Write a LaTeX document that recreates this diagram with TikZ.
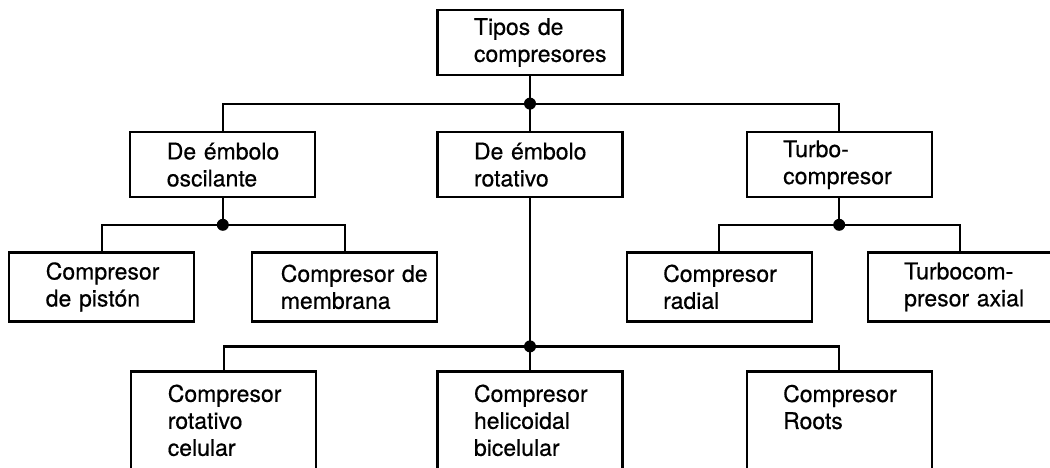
\documentclass[tikz,border=0pt]{standalone}
\usepackage{fontspec}
\setmainfont{TeX Gyre Heros}
\newfontfamily\boxfont[FakeBold=0.5]{TeX Gyre Heros}
\usetikzlibrary{positioning, calc}

\begin{document}
\begin{tikzpicture}[
  node distance=27.5pt and 60pt,
  box/.style={draw, line width=1.1pt, minimum width=92.5pt,
              minimum height=32.5pt, text width=92pt, inner xsep=0.25pt,
              align=left, font=\boxfont\fontsize{11.5}{13.5}\selectfont,
              execute at begin node={\leftskip=18pt}},
  midbox/.style={box, minimum height=34.5pt},
  leafbox/.style={box, minimum height=49pt},
  dot/.style={circle, fill, inner sep=0pt, minimum size=6pt},
  link/.style={line width=1.1pt}
]
\useasboundingbox (0,0) rectangle (525pt,-233.5pt);

\node[box] (tipos) at (265pt,-21.25pt) {Tipos de\\compresores};

\node[box, below=of tipos] (rot) {De émbolo\\rotativo};
\node[box, left=of rot] (osc) {De émbolo\\oscilante};
\node[box, right=61pt of rot] (turbo) {Turbo-\\compresor};

\node[midbox, below=26.5pt of osc, xshift=-60.5pt] (piston) {Compresor\\de pistón};
\node[midbox, below=26.5pt of osc, xshift=61pt,
      execute at begin node={\leftskip=14pt}] (membrana) {Compresor de\\membrana};
\node[midbox, below=26.5pt of turbo, xshift=-60pt] (radial) {Compresor\\radial};
\node[midbox, below=26.5pt of turbo, xshift=60.5pt] (axial) {Turbocom-\\presor axial};

\node[leafbox, below=86pt of rot] (helicoidal) {Compresor\\helicoidal\\bicelular};
\node[leafbox, left=59.5pt of helicoidal] (celular) {Compresor\\rotativo\\celular};
\node[leafbox, right=61pt of helicoidal] (roots) {Compresor\\Roots\\\mbox{}};

% junctions
\node[dot] (jtipos) at ($(tipos.south)!0.5!(rot.north)$) {};
\node[dot] (josc) at ($(osc.south)!0.5!(osc.south |- piston.north)$) {};
\node[dot] (jturbo) at ($(turbo.south)!0.5!(turbo.south |- radial.north)$) {};
\node[dot] (jrot) at ($(rot.south |- piston.south)!0.5!(rot.south |- celular.north)$) {};

\draw[link] (tipos) -- (jtipos.center) -- (rot);
\draw[link] (osc.north) |- (jtipos.center) -| (turbo.north);

\draw[link] (osc) -- (josc.center);
\draw[link] (piston.north) |- (josc.center) -| (membrana.north);

\draw[link] (turbo) -- (jturbo.center);
\draw[link] (radial.north) |- (jturbo.center) -| (axial.north);

\draw[link] (rot) -- (jrot.center) -- (helicoidal);
\draw[link] (celular.north) |- (jrot.center) -| (roots.north);

\end{tikzpicture}
\end{document}
